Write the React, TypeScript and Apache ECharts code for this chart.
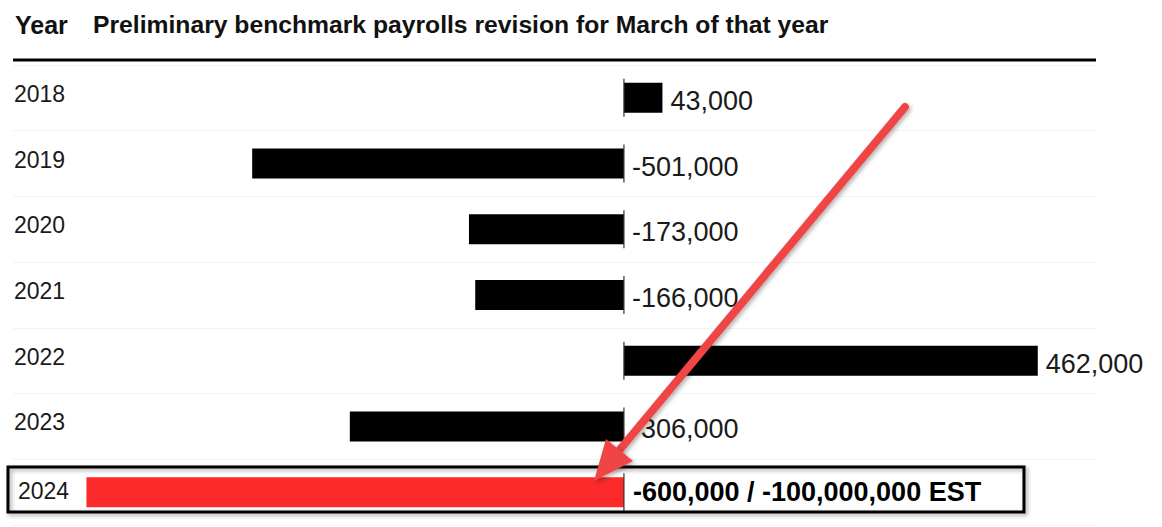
import React, { useEffect, useRef } from "react";
import * as echarts from "echarts";

const years = ["2018", "2019", "2020", "2021", "2022", "2023", "2024"];
// bar lengths as drawn in the picture
const revisions = [43000, -415000, -173000, -166000, 462000, -306000, -600000];
// value labels as printed next to each bar
const valueLabels = ["43,000", "-501,000", "-173,000", "-166,000", "462,000", "-306,000", "-600,000 / -100,000,000 EST"];
const headerYear = "Year";
const headerTitle = "Preliminary benchmark payrolls revision for March of that year";

const FONT = "'Liberation Sans', Arial, Helvetica, sans-serif";

export default function App() {
  const ref = useRef<HTMLDivElement>(null);
  useEffect(() => {
    if (!ref.current) return;
    const chart = echarts.init(ref.current, null, { renderer: "svg" });
    const last = years.length - 1;
    chart.setOption({
      animation: false,
      backgroundColor: "#ffffff",
      grid: { left: 13, right: 66, top: 65, height: 460, containLabel: false },
      xAxis: {
        type: "value",
        min: -682000,
        max: 527000,
        show: false,
      },
      yAxis: {
        type: "category",
        data: years,
        inverse: true,
        axisLine: { show: false },
        axisTick: { show: false },
        splitLine: { show: true, lineStyle: { color: "#f3f3f3", width: 1 } },
        axisLabel: {
          inside: true,
          margin: 1,
          formatter: (v: string) => (v === years[last] ? `{b|${v}}` : `{a|${v}}`),
          rich: {
            a: { color: "#1a1a1a", fontSize: 23, fontFamily: FONT, padding: [0, 0, 8, 0] },
            b: { color: "#1a1a1a", fontSize: 23, fontFamily: FONT, padding: [0, 0, 2, 4] },
          },
        },
      },
      series: [
        {
          type: "bar",
          barWidth: 30,
          z: 2,
          data: revisions.map((v, i) => ({
            value: v,
            itemStyle: { color: i === last ? "#fc2a2a" : "#000000" },
            label:
              i === last
                ? { fontWeight: "bold", fontSize: 27, color: "#000", distance: 9, offset: [0, 0] }
                : {},
          })),
          label: {
            show: true,
            position: "right",
            distance: 8,
            offset: [0, 3],
            color: "#1a1a1a",
            fontSize: 27,
            fontFamily: FONT,
            formatter: (p: any) => valueLabels[p.dataIndex],
          },
        },
        {
          type: "scatter",
          symbol: "rect",
          symbolSize: [1.5, 38],
          z: 3,
          itemStyle: { color: "#333333" },
          data: years.map((y) => [0, y]),
          silent: true,
        },
      ],
      graphic: [
        {
          type: "text",
          left: 15,
          top: 12,
          style: { text: headerYear, fontSize: 25, fontWeight: "bold", fontFamily: FONT, fill: "#111" },
        },
        {
          type: "text",
          left: 93,
          top: 12,
          style: { text: headerTitle, fontSize: 24.7, fontWeight: "bold", fontFamily: FONT, fill: "#111" },
        },
        {
          type: "line",
          shape: { x1: 13, y1: 60, x2: 1096, y2: 60 },
          style: { stroke: "#000", lineWidth: 3 },
        },
        {
          type: "rect",
          shape: { x: 8, y: 467, width: 1016, height: 45 },
          style: {
            fill: "none",
            stroke: "#000",
            lineWidth: 3,
            shadowBlur: 4,
            shadowOffsetX: 2,
            shadowOffsetY: 2,
            shadowColor: "rgba(0,0,0,0.35)",
          },
          z: 10,
        },
        {
          type: "line",
          shape: { x1: 905, y1: 107, x2: 617, y2: 453 },
          style: {
            stroke: "#ef4444",
            lineWidth: 8,
            lineCap: "round",
            shadowBlur: 4,
            shadowOffsetX: 2,
            shadowOffsetY: 2,
            shadowColor: "rgba(0,0,0,0.3)",
          },
          z: 20,
        },
        {
          type: "polygon",
          shape: { points: [[594, 481], [633, 461], [606, 439]] },
          style: {
            fill: "#ef4444",
            shadowBlur: 4,
            shadowOffsetX: 2,
            shadowOffsetY: 2,
            shadowColor: "rgba(0,0,0,0.3)",
          },
          z: 21,
        },
      ],
    });
    return () => chart.dispose();
  }, []);
  return (
    <div
      ref={ref}
      style={{ position: "fixed", left: 0, top: 0, width: 1162, height: 527 }}
    />
  );
}
